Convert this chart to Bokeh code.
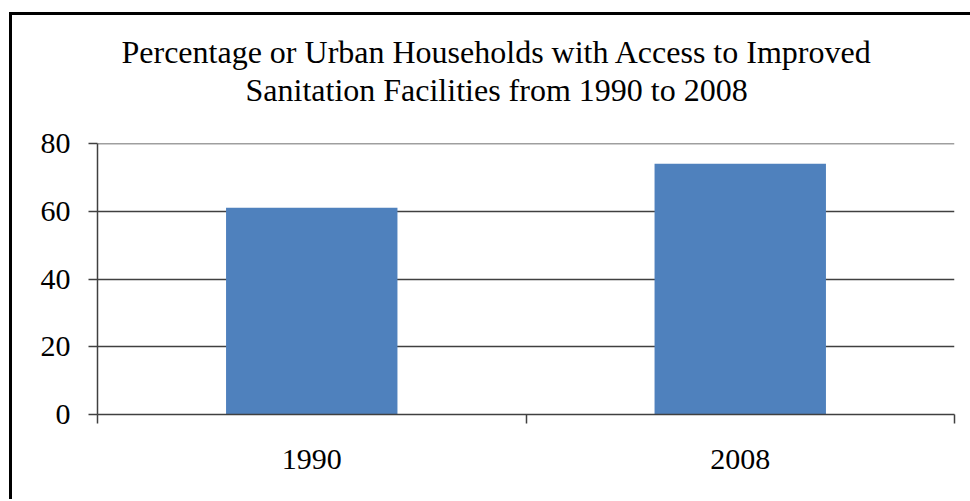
from bokeh.plotting import figure
from bokeh.layouts import column
from bokeh.models import FixedTicker, Range1d, Span, Title
from bokeh.embed import file_html
from bokeh.resources import INLINE

# Data
years = ["1990", "2008"]
percent_access = [61, 74]
y_ticks = [0, 20, 40, 60, 80]

title_lines = [
    "Percentage or Urban Households with Access to Improved",
    "Sanitation Facilities from 1990 to 2008",
]
# left offsets of the title lines (relative to the plot frame) so both are centred on the chart box
title_offsets = [24, 148]

FONT = "Liberation Serif"
BAR_COLOR = "#4F81BD"
LINE_COLOR = "#404040"

n = len(years)
centers = [i + 0.5 for i in range(n)]

# the chart box runs to the right edge of the page
p = figure(
    width=990, height=484,
    x_range=Range1d(0, n), y_range=Range1d(0, y_ticks[-1]),
    output_backend="svg", toolbar_location=None,
    min_border_left=85, min_border_right=16,
    min_border_top=128, min_border_bottom=85,
    outline_line_color=None,
    background_fill_color="white", border_fill_color="white",
    margin=0,
)

p.vbar(x=centers, top=percent_access, width=0.4, bottom=0,
       fill_color=BAR_COLOR, line_color=None)

# y axis
p.yaxis.ticker = FixedTicker(ticks=y_ticks, minor_ticks=[])
p.yaxis.axis_line_color = LINE_COLOR
p.yaxis.axis_line_width = 1.5
p.yaxis.major_tick_line_color = LINE_COLOR
p.yaxis.major_tick_line_width = 1.5
p.yaxis.major_tick_out = 9
p.yaxis.major_tick_in = 0
p.yaxis.minor_tick_line_color = None
p.yaxis.major_label_standoff = 18
p.yaxis.major_label_text_font = FONT
p.yaxis.major_label_text_font_size = "30px"
p.yaxis.major_label_text_color = "black"

# x axis: labels at category centres, tick marks at category boundaries
p.xaxis.ticker = FixedTicker(ticks=centers, minor_ticks=list(range(n + 1)))
p.xaxis.major_label_overrides = {c: y for c, y in zip(centers, years)}
p.xaxis.axis_line_color = LINE_COLOR
p.xaxis.axis_line_width = 1.5
p.xaxis.major_tick_line_color = None
p.xaxis.major_tick_out = 0
p.xaxis.major_tick_in = 0
p.xaxis.minor_tick_line_color = LINE_COLOR
p.xaxis.minor_tick_line_width = 1.5
p.xaxis.minor_tick_out = 9
p.xaxis.minor_tick_in = 0
p.xaxis.major_label_standoff = 26
p.xaxis.major_label_text_font = FONT
p.xaxis.major_label_text_font_size = "30px"
p.xaxis.major_label_text_color = "black"

p.xgrid.grid_line_color = None
p.ygrid.ticker = FixedTicker(ticks=y_ticks[1:])
p.ygrid.grid_line_color = LINE_COLOR
p.ygrid.grid_line_width = 1.5
# top gridline sits on the range end, draw it explicitly
p.add_layout(Span(location=y_ticks[-1], dimension="width",
                  line_color=LINE_COLOR, line_width=1.5))

# Gap between the plot frame and the title block
p.add_layout(Title(text=" ", text_font_size="1px", standoff=33), "above")

# Two-line title: panels stack outward, so the second line goes in first
for line, off in reversed(list(zip(title_lines, title_offsets))):
    p.add_layout(Title(
        text=line, align="left", offset=off, standoff=0,
        text_font=FONT, text_font_size="32px", text_font_style="normal",
        text_color="black",
    ), "above")

# Chart box: black rule along the top and left edges, clipped at the right
layout = column(
    p,
    width=961, height=487,
    margin=(12, 0, 0, 9),
    styles={"border-top": "3px solid black", "border-left": "3px solid black",
            "background-color": "white", "overflow": "hidden"},
)

open("out.html", "w").write(file_html(layout, INLINE))
